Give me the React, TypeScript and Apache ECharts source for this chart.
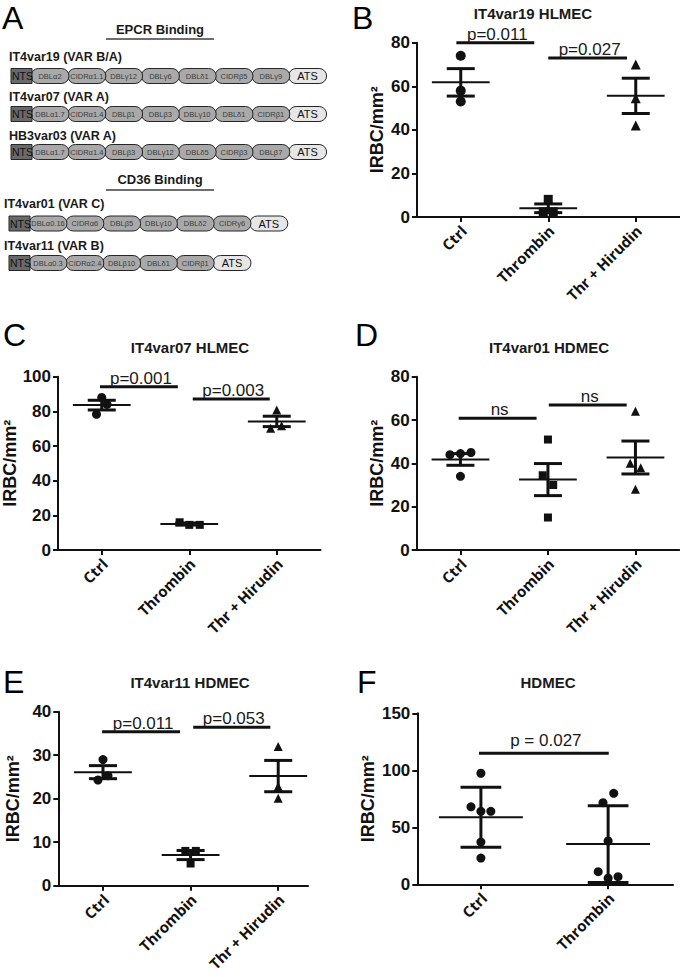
import React, { useEffect, useRef } from 'react';
import * as echarts from 'echarts';

const FONT = '"Liberation Sans", Arial, Helvetica, sans-serif';
const XFONT = '"Open Sans", "Liberation Sans", sans-serif';
const INK = '#111111';

// ---------- Panel A: PfEMP1 domain architectures ----------
const variantNames = ['IT4var19 (VAR B/A)', 'IT4var07 (VAR A)', 'HB3var03 (VAR A)', 'IT4var01 (VAR C)', 'IT4var11 (VAR B)'];
const it4var19Domains = ['DBLα2', 'CIDRα1.1', 'DBLγ12', 'DBLγ6', 'DBLδ1', 'CIDRβ5', 'DBLγ9'];
const it4var07Domains = ['DBLα1.7', 'CIDRα1.4', 'DBLβ1', 'DBLβ3', 'DBLγ10', 'DBLδ1', 'CIDRβ1'];
const hb3var03Domains = ['DBLα1.7', 'CIDRα1.4', 'DBLβ3', 'DBLγ12', 'DBLδ5', 'CIDRβ3', 'DBLβ7'];
const it4var01Domains = ['DBLα0.16', 'CIDRα6', 'DBLβ5', 'DBLγ10', 'DBLδ2', 'CIDRγ6'];
const it4var11Domains = ['DBLα0.3', 'CIDRα2.4', 'DBLβ10', 'DBLδ1', 'CIDRβ1'];
const sectionTitles = ['EPCR Binding', 'CD36 Binding'];

// ---------- Categories ----------
const groups3 = ['Ctrl', 'Thrombin', 'Thr + Hirudin'];
const groups2 = ['Ctrl', 'Thrombin'];
const panelTitles = ['IT4var19 HLMEC', 'IT4var07 HLMEC', 'IT4var01 HDMEC', 'IT4var11 HDMEC', 'HDMEC'];
const yName = 'IRBC/mm²';

// ---------- Panel B ----------
const bCtrl = [74, 58, 53];
const bThrombin = [8.1, 2.4, 2.4];
const bHirudin = [70, 54.5, 42];
const bOffsets = [[0, 0, 0], [0, -0.057, 0.057], [0, 0, 0]];
const bMean = [61.8, 4.0, 55.6];
const bErr = [6.3, 2.0, 8.1];
const bBrackets = [[-0.05, 0.84, 80], [1.0, 1.9, 73]];
const bP = ['p=0.011', 'p=0.027'];

// ---------- Panel C ----------
const cCtrl = [88, 84, 78.3];
const cThrombin = [16, 14.5, 14.5];
const cHirudin = [80.8, 70.2, 71.7];
const cOffsets = [[0, 0.06, -0.06], [-0.11, 0, 0.12], [0, -0.07, 0.055]];
const cMean = [83.6, 15.0, 74.2];
const cErr = [2.8, 0.6, 3.0];
const cBrackets = [[-0.02, 0.87, 94.2], [1.04, 1.92, 87.1]];
const cP = ['p=0.001', 'p=0.003'];

// ---------- Panel D ----------
const dCtrl = [44, 44.5, 45, 34];
const dThrombin = [51, 34.5, 30, 15];
const dHirudin = [64, 40, 38, 28];
const dOffsets = [[-0.12, 0, 0.12, 0], [0, -0.06, 0.06, 0], [0, -0.06, 0.06, 0]];
const dMean = [41.8, 32.5, 42.7];
const dErr = [2.7, 7.4, 7.6];
const dBrackets = [[-0.02, 0.87, 60.8], [1.01, 1.9, 66.9]];
const dP = ['ns', 'ns'];

// ---------- Panel E ----------
const eCtrl = [29, 24.3, 25.3];
const eThrombin = [8, 8, 5.1];
const eHirudin = [32, 22.8, 20.1];
const eOffsets = [[0, -0.057, 0.057], [-0.06, 0.06, 0], [0, 0, 0]];
const eMean = [26.1, 7.05, 25.2];
const eErr = [1.5, 1.05, 3.6];
const eBrackets = [[-0.01, 0.88, 35.4], [1.03, 1.91, 36.4]];
const eP = ['p=0.011', 'p=0.053'];

// ---------- Panel F (mean ± SD) ----------
const fCtrl = [97.4, 68, 64, 64, 37, 23];
const fThrombin = [79.8, 71.6, 38, 11.1, 5.3, 6.7];
const fOffsets = [[0, -0.078, 0, 0.078, 0, 0], [0.044, -0.04, 0, -0.078, 0, 0.078]];
const fMean = [58.8, 35.3];
const fErr = [26.3, 33.7];
const fBrackets = [[-0.015, 1.005, 115]];
const fP = ['p = 0.027'];

type Panel = {
  left: number; top: number; width: number; height: number;
  xMin: number; xMax: number; yMax: number; yInterval: number;
  names: string[]; values: number[][]; offsets: number[][]; symbols: string[];
  size: number; mean: number[]; err: number[]; brackets: number[][]; pLabels: string[];
  nameGap: number; pGap: number;
};

const panels: Panel[] = [
  { left: 417, top: 42.7, width: 262.5, height: 174.3, xMin: -0.5, xMax: 2.5, yMax: 80, yInterval: 20,
    names: groups3, values: [bCtrl, bThrombin, bHirudin], offsets: bOffsets, symbols: ['circle', 'rect', 'triangle'],
    size: 10, mean: bMean, err: bErr, brackets: bBrackets, pLabels: bP, nameGap: 31, pGap: 0 },
  { left: 58, top: 376.7, width: 262.5, height: 173.3, xMin: -0.5, xMax: 2.5, yMax: 100, yInterval: 20,
    names: groups3, values: [cCtrl, cThrombin, cHirudin], offsets: cOffsets, symbols: ['circle', 'rect', 'triangle'],
    size: 9, mean: cMean, err: cErr, brackets: cBrackets, pLabels: cP, nameGap: 36, pGap: 0 },
  { left: 416.7, top: 376.7, width: 262.5, height: 173.3, xMin: -0.5, xMax: 2.5, yMax: 80, yInterval: 20,
    names: groups3, values: [dCtrl, dThrombin, dHirudin], offsets: dOffsets, symbols: ['circle', 'rect', 'triangle'],
    size: 9, mean: dMean, err: dErr, brackets: dBrackets, pLabels: dP, nameGap: 31, pGap: 0 },
  { left: 58.3, top: 711.7, width: 249.7, height: 174, xMin: -0.51, xMax: 2.34, yMax: 40, yInterval: 10,
    names: groups3, values: [eCtrl, eThrombin, eHirudin], offsets: eOffsets, symbols: ['circle', 'rect', 'triangle'],
    size: 9, mean: eMean, err: eErr, brackets: eBrackets, pLabels: eP, nameGap: 36, pGap: 0 },
  { left: 417.3, top: 713.3, width: 255.7, height: 171, xMin: -0.5, xMax: 1.51, yMax: 150, yInterval: 50,
    names: groups2, values: [fCtrl, fThrombin], offsets: fOffsets, symbols: ['circle', 'circle'],
    size: 9, mean: fMean, err: fErr, brackets: fBrackets, pLabels: fP, nameGap: 40, pGap: 4 },
];

const titlePos = [[533, 13], [190, 347], [549, 347], [190, 682], [548, 682]];
const letters = [['A', 2, 18], ['B', 352, 18], ['C', 3, 335], ['D', 355, 335], ['E', 3, 682], ['F', 357, 682]];

function buildPanelA(): any[] {
  const els: any[] = [];
  const rows = [it4var19Domains, it4var07Domains, hb3var03Domains, it4var01Domains, it4var11Domains];
  const labelY = [57, 97, 136, 204, 246];
  const labelX = [9, 9, 9, 4, 4];
  const barY = [76, 114, 152, 223.5, 263];
  const barX = [11, 11, 11, 9, 9];
  const h = 15, nts = 21, step = 36.8, w = 38;
  [[29, 39], [179, 190]].forEach(([ty, ly], i) => {
    els.push({ type: 'text', x: 160, y: ty, style: { text: sectionTitles[i], font: `bold 13px ${FONT}`, fill: '#1a1a1a', align: 'center', verticalAlign: 'middle' } });
    els.push({ type: 'line', shape: { x1: 106, y1: ly, x2: 214, y2: ly }, style: { stroke: '#6f6f6f', lineWidth: 2 } });
  });
  rows.forEach((doms, r) => {
    els.push({ type: 'text', x: labelX[r], y: labelY[r], style: { text: variantNames[r], font: `bold 12.5px ${FONT}`, fill: '#1a1a1a', align: 'left', verticalAlign: 'middle' } });
    const cy = barY[r];
    const x0 = barX[r];
    const all = [...doms, 'ATS'];
    for (let i = all.length - 1; i >= 0; i--) {
      const x = x0 + nts - 1 + i * step;
      const isAts = i === all.length - 1;
      els.push({ type: 'rect', shape: { x, y: cy - h / 2, width: w, height: h, r: h / 2 },
        style: { fill: isAts ? '#e6e6e6' : '#a9a9a9', stroke: '#262626', lineWidth: 1 } });
      els.push({ type: 'text', x: x + w / 2, y: cy, style: { text: all[i], font: isAts ? `11px ${FONT}` : `7.5px ${FONT}`, fill: isAts ? '#111' : '#3c3c3c', align: 'center', verticalAlign: 'middle' } });
    }
    els.push({ type: 'rect', shape: { x: x0, y: cy - h / 2, width: nts, height: h }, style: { fill: '#696969', stroke: '#262626', lineWidth: 1 } });
    els.push({ type: 'text', x: x0 + nts / 2 + 1, y: cy, style: { text: 'NTS', font: `10.5px ${FONT}`, fill: '#111', align: 'center', verticalAlign: 'middle' } });
  });
  return els;
}

function buildOption(): any {
  const grid: any[] = [];
  const xAxis: any[] = [];
  const yAxis: any[] = [];
  const series: any[] = [];
  panels.forEach((p, i) => {
    grid.push({ left: p.left, top: p.top, width: p.width, height: p.height, containLabel: false, outerBoundsMode: 'none' });
    const ticks = p.names.map((_, k) => k);
    xAxis.push({
      type: 'value', gridIndex: i, min: p.xMin, max: p.xMax, splitLine: { show: false },
      axisLine: { show: true, onZero: false, lineStyle: { color: INK, width: 2 } },
      axisTick: { show: true, customValues: ticks, length: 5, lineStyle: { color: INK, width: 2 } },
      axisLabel: { show: false },
    });
    yAxis.push({
      type: 'value', gridIndex: i, min: 0, max: p.yMax, interval: p.yInterval, splitLine: { show: false },
      axisLine: { show: true, onZero: false, lineStyle: { color: INK, width: 2 } },
      axisTick: { show: true, length: 5, lineStyle: { color: INK, width: 2 } },
      axisLabel: { fontFamily: FONT, fontWeight: 'bold', fontSize: 17, color: INK, margin: 7 },
      name: yName, nameLocation: 'middle', nameGap: p.nameGap, nameRotate: 90,
      nameTextStyle: { fontFamily: FONT, fontWeight: 'bold', fontSize: 18, color: INK },
    });
    p.values.forEach((vals, g) => {
      series.push({
        type: 'scatter', xAxisIndex: i, yAxisIndex: i, symbol: p.symbols[g], symbolSize: p.symbols[g] === 'rect' ? p.size - 1 : p.size,
        itemStyle: { color: INK, opacity: 1 }, silent: true,
        data: vals.map((v, k) => [g + p.offsets[g][k], v]),
      });
    });
    series.push({
      type: 'custom', xAxisIndex: i, yAxisIndex: i, silent: true, z: 3,
      data: p.mean.map((m, g) => [g, m, p.err[g]]),
      renderItem: (_params: any, api: any) => {
        const g = api.value(0), m = api.value(1), e = api.value(2);
        const L = api.coord([g - 0.33, m]), R = api.coord([g + 0.33, m]);
        const T = api.coord([g, m + e]), B = api.coord([g, m - e]);
        const TL = api.coord([g - 0.16, m + e]), TR = api.coord([g + 0.16, m + e]);
        const BL = api.coord([g - 0.16, m - e]), BR = api.coord([g + 0.16, m - e]);
        const st = (w: number) => ({ stroke: INK, lineWidth: w });
        return { type: 'group', children: [
          { type: 'line', shape: { x1: L[0], y1: L[1], x2: R[0], y2: R[1] }, style: st(2) },
          { type: 'line', shape: { x1: T[0], y1: T[1], x2: B[0], y2: B[1] }, style: st(3) },
          { type: 'line', shape: { x1: TL[0], y1: TL[1], x2: TR[0], y2: TR[1] }, style: st(3) },
          { type: 'line', shape: { x1: BL[0], y1: BL[1], x2: BR[0], y2: BR[1] }, style: st(3) },
        ] };
      },
    });
    series.push({
      type: 'custom', xAxisIndex: i, yAxisIndex: i, silent: true, clip: false, z: 4,
      data: p.brackets,
      renderItem: (params: any, api: any) => {
        const a = api.coord([api.value(0), api.value(2)]);
        const b = api.coord([api.value(1), api.value(2)]);
        return { type: 'group', children: [
          { type: 'line', shape: { x1: a[0], y1: a[1], x2: b[0], y2: b[1] }, style: { stroke: INK, lineWidth: 3 } },
          { type: 'text', x: (a[0] + b[0]) / 2 + 2, y: a[1] - p.pGap,
            style: { text: p.pLabels[params.dataIndex], font: `17px ${FONT}`, fill: '#1a1a1a', align: 'center', verticalAlign: 'bottom' } },
        ] };
      },
    });
  });

  return { animation: false, backgroundColor: '#ffffff', grid, xAxis, yAxis, series };
}

function buildGraphic(chart: any): any[] {
  const graphic: any[] = buildPanelA();
  panelTitles.forEach((t, i) => {
    graphic.push({ type: 'text', x: titlePos[i][0], y: titlePos[i][1], style: { text: t, font: `bold 15px ${FONT}`, fill: '#1a1a1a', align: 'center', verticalAlign: 'middle' } });
  });
  letters.forEach(([t, x, y]) => {
    graphic.push({ type: 'text', x, y, style: { text: t, font: `32px ${FONT}`, fill: '#000', align: 'left', verticalAlign: 'middle' } });
  });
  // category labels, rotated 45°, anchored at each tick through the axis scale
  panels.forEach((p, i) => {
    p.names.forEach((name, g) => {
      const pt = chart.convertToPixel({ gridIndex: i }, [g, 0]);
      if (!pt) return;
      graphic.push({ type: 'text', x: pt[0] + 3, y: pt[1] + 11, rotation: Math.PI / 4,
        style: { text: name, font: `bold 15px ${XFONT}`, fill: INK, align: 'right', verticalAlign: 'middle' } });
    });
  });
  return graphic;
}

export default function App() {
  const ref = useRef<HTMLDivElement>(null);
  useEffect(() => {
    if (!ref.current) return;
    const chart = echarts.init(ref.current, undefined, { renderer: 'svg' });
    chart.setOption(buildOption());
    chart.setOption({ graphic: buildGraphic(chart) });
    return () => chart.dispose();
  }, []);
  return <div ref={ref} style={{ position: 'fixed', left: 0, top: 0, width: 680, height: 977, background: '#fff' }} />;
}
